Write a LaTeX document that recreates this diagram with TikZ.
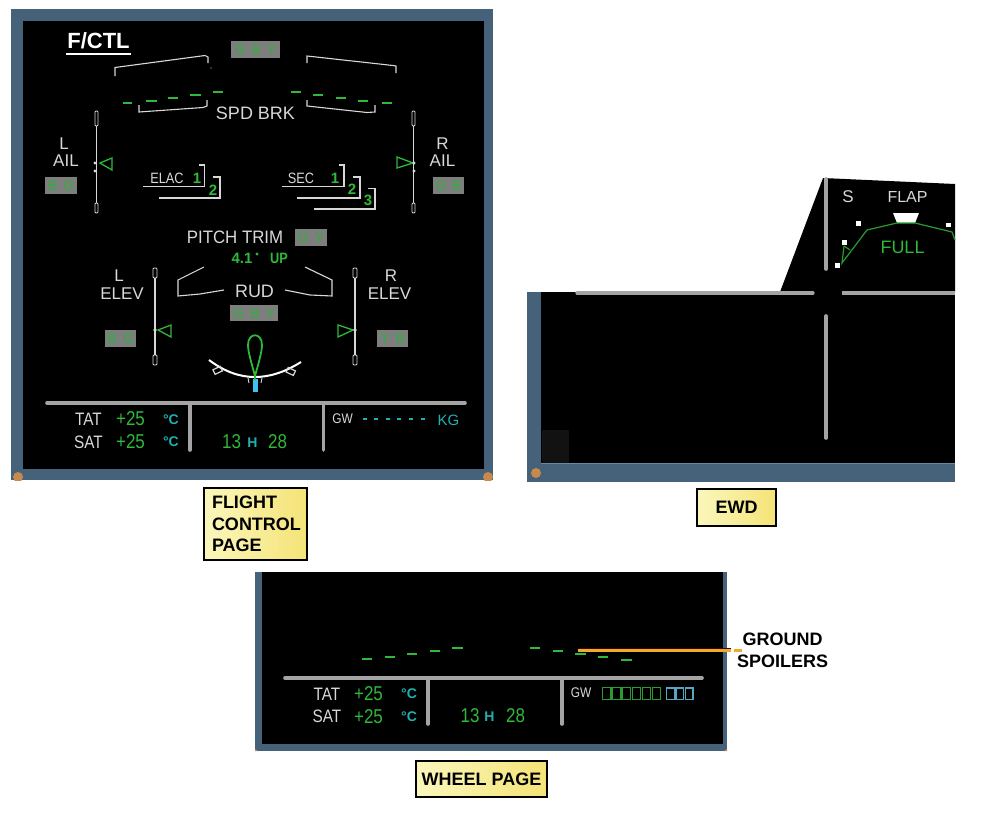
\documentclass[tikz,border=0pt]{standalone}
\usepackage{fontspec}
\setmainfont{Liberation Sans}
\definecolor{frame}{HTML}{46627A}
\definecolor{scr}{HTML}{C88A4A}
\definecolor{wht}{HTML}{D8D8D8}
\definecolor{grn}{HTML}{2FB83A}
\definecolor{hyd}{HTML}{2DB03A}
\definecolor{cyn}{HTML}{1FB0B0}
\definecolor{bar}{HTML}{A4A4A4}
\definecolor{hbox}{HTML}{7E7E7E}
\definecolor{lead}{HTML}{EBAE2C}
\definecolor{capL}{HTML}{FAF7BC}
\definecolor{capR}{HTML}{F5E377}
\newcommand{\fs}[1]{\fontsize{#1}{#1}\selectfont}
\newcommand{\nar}[1]{\scalebox{0.85}[1]{#1}}
\newcommand{\hg}{\hspace{6pt}}
\tikzset{
 tw/.style={text=wht,inner sep=0pt,font=\fs{17}},
 tg/.style={text=grn,inner sep=0pt,font=\fs{17}},
 tc/.style={text=cyn,inner sep=0pt,font=\bfseries\fs{14}},
 num/.style={text=grn,inner sep=0pt,font=\bfseries\fs{15}},
 hb/.style={fill=hbox,text=hyd,inner sep=0pt,font=\fs{14},anchor=north west},
 gl/.style={wht,line width=1.1pt},
 scl/.style={wht,line width=0.9pt,rounded corners=1pt},
 dsh/.style={grn,line width=1.4pt},
 sepline/.style={bar,line width=3.6pt,line cap=round},
 ptr/.style={grn,line width=1.3pt},
 capbox/.style={draw=black,line width=2pt,left color=capL,right color=capR,text=black,inner sep=0pt,font=\bfseries\fontsize{18}{21.5}\selectfont,align=left},
 dotw/.style={fill=white,draw=none},
}
\begin{document}
\begin{tikzpicture}[x=1pt,y=-1pt]
\useasboundingbox (0,0) rectangle (982,814);
\fill[white] (0,0) rectangle (982,814);
% ---------- Flight control panel
\fill[frame] (11,9) rectangle (493,480);
\begin{scope}
\clip (11,9) rectangle (493,480);
\fill[scr] (18,477) circle (5);
\fill[scr] (488,477) circle (5);
\end{scope}
\fill[black] (23,21) rectangle (484,468.5);
\node[text=white,inner sep=0pt,font=\bfseries\fs{22}] (fctl) at (98.5,41) {F/CTL};
\draw[white,line width=2pt] (66,53.5) -- (131,53.5);
\node[hb,minimum width=49,minimum height=17] (hgby) at (231,41) {G\hg B\hg Y};
\draw[gl] (115,76) -- (115,67.5) -- (205,55.5) -- (208,57) -- (208,63);
\draw[gl] (307,63) -- (307,56) -- (393,65.5) -- (396,66) -- (396,73);
\fill[wht] (211,68) circle (0.7);
\foreach \a/\b/\y in {123/132/103,146/157/101,168/178/98,190/201/95,213/223/92,291/301/92,313/323/95,336/346/98,358/368/101,382/392/103}
  \draw[dsh] (\a,\y) -- (\b,\y);
\draw[gl] (139,105) -- (139,112) -- (203,107.5) -- (207,106) -- (207,100);
\draw[gl] (307,100) -- (307,106) -- (367,112.5) -- (375,112) -- (375,105);
\node[tw,font=\fs{18}] (spd) at (255.5,113) {SPD BRK};
% ailerons
\draw[gl] (96.5,126) -- (96.5,203);
\draw[scl] (95,111) rectangle (98,126);
\draw[scl] (95,203) rectangle (98,213);
\draw[ptr] (100,163) -- (112,158) -- (112,170) -- cycle;
\fill[wht] (95,163) circle (1.6) (95,171) circle (1.6);
\node[tw] (lt) at (64,144) {L};
\node[tw] (lail) at (66,160.5) {AIL};
\node[hb,minimum width=32,minimum height=17] (hlail) at (45,177) {B\hg G};
\draw[gl] (413.5,126) -- (413.5,203);
\draw[scl] (412,111) rectangle (415,126);
\draw[scl] (412,203) rectangle (415,213);
\draw[ptr] (413,163) -- (397,157) -- (397,168) -- cycle;
\fill[wht] (414,163) circle (1.6) (414,171) circle (1.6);
\node[tw] (rt) at (442.5,144) {R};
\node[tw] (rail) at (442.5,160.5) {AIL};
\node[hb,minimum width=31,minimum height=17] (hrail) at (433,177) {G\hg B};
% computers
\node[tw,font=\fs{15}] (elac) at (167,178) {\nar{ELAC}};
\node[num] (e1) at (197,178) {1};
\draw[gl] (143,186.5) -- (204.5,186.5) -- (204.5,165) -- (199,165);
\node[num] (e2) at (213,190) {2};
\draw[gl] (159,198) -- (220,198) -- (220,177) -- (213,177);
\node[tw,font=\fs{15}] (sec) at (301,178) {\nar{SEC}};
\node[num] (s1) at (335,178) {1};
\draw[gl] (282,186.5) -- (344,186.5) -- (344,165) -- (339,165);
\node[num] (s2) at (352,189) {2};
\draw[gl] (297,198) -- (360,198) -- (360,177) -- (353,177);
\node[num] (s3) at (368,200) {3};
\draw[gl] (314,209) -- (375,209) -- (375,188.5) -- (368,188.5);
% pitch trim
\node[tw,font=\fs{18}] (pt) at (235,237.5) {\nar{\scalebox{1.1}[1]{PITCH TRIM}}};
\node[hb,minimum width=32,minimum height=17] (hpt) at (295,229) {G\hg Y};
\node[tg,font=\bfseries\fs{15}] (deg1) at (242,258.5) {4.1};
\fill[grn] (257,254) circle (1.6);
\node[tg,font=\bfseries\fs{15}] (up) at (279,258.5) {\nar{UP}};
% rudder frame
\draw[gl] (204,267) -- (178,280) -- (178,296) -- (200,294) -- (224,290);
\draw[gl] (305,267) -- (332,280) -- (332,296) -- (310,295) -- (285,290);
\node[tw,font=\fs{18}] (rud) at (254.5,291) {RUD};
\node[hb,minimum width=48,minimum height=16] (hrud) at (230,305) {G\hg B\hg Y};
% elevators
\node[tw] (el) at (119,276) {L};
\node[tw] (elev1) at (122,294) {ELEV};
\draw[gl] (155,278) -- (155,355);
\draw[scl] (153,268) rectangle (157,278);
\draw[scl] (153,355) rectangle (157,365);
\draw[ptr] (158,330) -- (171,325) -- (171,337) -- cycle;
\fill[wht] (155,330) circle (1.8);
\node[hb,minimum width=31,minimum height=17] (hlel) at (105,330) {B\hg G};
\node[tw] (er) at (391,276) {R};
\node[tw] (elev2) at (389.5,294) {ELEV};
\draw[gl] (355,278) -- (355,355);
\draw[scl] (353,268) rectangle (357,278);
\draw[scl] (353,355) rectangle (357,365);
\draw[ptr] (353,330) -- (338,325) -- (338,337) -- cycle;
\fill[wht] (355,330) circle (1.8);
\node[hb,minimum width=31,minimum height=17] (hrel) at (377,330) {Y\hg B};
% rudder gauge
\draw[white,line width=2pt] (209,360) .. controls (225,372) and (240,377) .. (255,377) .. controls (270,377) and (285,372) .. (301,362);
\draw[gl,line width=1.2pt,rotate around={25:(217,369)}] (213,368) rectangle (221,373);
\draw[gl,line width=1.2pt,rotate around={-25:(291,371)}] (287,369) rectangle (295,374);
\draw[gl,line width=0.9pt] (248,378) -- (249,383) (262,378) -- (261,383);
\fill[cyan!75!white] (253,379) rectangle (258,392);
\draw[grn,line width=1.8pt] (255,376) .. controls (252,365) and (248,352) .. (248,345) .. controls (248,332) and (262,332) .. (262,345) .. controls (262,352) and (258,365) .. (255,376) -- (255,380);
% status strip
\coordinate (s1a) at (47,403);
\coordinate (s1b) at (465,403);
\draw[sepline] (s1a) -- (s1b);
\draw[sepline] (190,403) -- (190,450);
\draw[sepline] (323.5,403) -- (323.5,450);
\node[tw,font=\fs{18}] (tat) at (88.5,419) {\nar{TAT}};
\node[tw,font=\fs{18}] (sat) at (88.5,442) {\nar{SAT}};
\node[tg,font=\fs{20}] (t1) at (130.5,419) {\nar{+25}};
\node[tg,font=\fs{20}] (t2) at (130.5,441.5) {\nar{+25}};
\node[tc] (c1) at (171,419.5) {°C};
\node[tc] (c2) at (171,442) {°C};
\node[tg,font=\fs{20}] (h13) at (231.5,441.5) {\nar{13}};
\node[tc] (hh) at (252.5,442.5) {H};
\node[tg,font=\fs{20}] (h28) at (277.5,441.5) {\nar{28}};
\node[tw,font=\fs{14}] (gw1) at (342.5,419) {\nar{GW}};
\foreach \i in {0,...,5} \fill[cyn] (362.5+\i*11.6,418) rectangle ++(4,1.8);
\node[tc,font=\fs{15}] (kg) at (448.5,420) {KG};
\node[capbox,minimum width=103,minimum height=72,anchor=north west,text width=87,inner xsep=8pt] (capa) at (203,487) {FLIGHT\\CONTROL\\PAGE};
% ---------- EWD
\fill[black] (780,292) -- (823,178) -- (955,184) -- (955,292) -- cycle;
\fill[frame] (527,292) rectangle (955,482);
\fill[black] (541,292) rectangle (955,463);
\draw[cyan!30!frame,line width=0.8pt] (541,463.5) -- (955,463.5);
\fill[black!93] (542,430) rectangle (569,463);
\fill[scr] (536,473) circle (5);
\draw[bar,line width=3.2pt,line cap=round] (577,293) -- (813,293);
\draw[bar,line width=3.2pt,line cap=butt] (842,293) -- (955,293);
\draw[bar,line width=3.6pt,line cap=round] (826,179) -- (826,269);
\draw[bar,line width=3.6pt,line cap=round] (826,316) -- (826,438);
\node[tw,font=\fs{17}] (slat) at (848,197) {S};
\node[tw,font=\fs{16}] (flap) at (907.5,197) {FLAP};
\fill[white] (893,213) -- (919,213) -- (915,223) -- (897,223) -- cycle;
\fill[dotw] (856,221) rectangle ++(4.5,4.5);
\fill[dotw] (946,222.5) rectangle ++(4.5,4.5);
\fill[dotw] (842,240) rectangle ++(4.5,4.5);
\fill[dotw] (835,263) rectangle ++(4.5,4.5);
\draw[grn!85!black,line width=1.2pt] (844,246) -- (842,263) -- (867,230) -- (897,223) -- (915,223) -- (952,232) -- (955,240);
\draw[grn!85!black,line width=1.2pt] (844,246) -- (850,250);
\node[tg,font=\fs{18}] (full) at (902.5,247.5) {FULL};
\node[capbox,minimum width=79,minimum height=37] (capb) at (736.5,507.5) {EWD};
% ---------- Wheel page
\fill[frame] (255,572) rectangle (727,751);
\fill[black] (261.5,572) rectangle (723,743.5);
\fill[scr] (255,749) -- (258,751) -- (255,751) -- cycle;
\fill[scr] (727,749) -- (724,751) -- (727,751) -- cycle;
\foreach \a/\b/\y in {361.5/372/659,384.5/394.5/657,407/417/654,430/440/651,452/463/648,530/540/648,553/563/651,575/586/654,598/608/657,621/631.5/660}
  \draw[dsh] (\a,\y) -- (\b,\y);
\draw[sepline] (285,678) -- (702,678);
\draw[sepline] (428,678) -- (428,724);
\draw[sepline] (562,678) -- (562,724);
\node[tw,font=\fs{18}] (tat3) at (327,694) {\nar{TAT}};
\node[tw,font=\fs{18}] (sat3) at (327,716.5) {\nar{SAT}};
\node[tg,font=\fs{20}] (t3) at (368.5,694) {\nar{+25}};
\node[tg,font=\fs{20}] (t4) at (368.5,716.5) {\nar{+25}};
\node[tc] (c3) at (409,694) {°C};
\node[tc] (c4) at (409,716.5) {°C};
\node[tg,font=\fs{20}] (h13b) at (470,716) {\nar{13}};
\node[tc] (hhb) at (489.5,717) {H};
\node[tg,font=\fs{20}] (h28b) at (515.5,716) {\nar{28}};
\node[tw,font=\fs{14}] (gw3) at (581,693) {\nar{GW}};
\foreach \i in {0,...,5} \draw[grn!85!black,line width=1.4pt] (602.7+\i*9.9,687.5) rectangle ++(8.2,12);
\foreach \i in {0,...,2} \draw[cyan!70!black!80!white,line width=1.4pt] (666.7+\i*9.3,688) rectangle ++(7.6,11.5);
\node[capbox,minimum width=131,minimum height=36] (capc) at (481.5,779) {WHEEL PAGE};
% callout
\node[text=black,inner sep=0pt,font=\bfseries\fontsize{18}{22}\selectfont,align=center] (gsp) at (782.5,650) {GROUND\\SPOILERS};
\coordinate (gs) at (578,650);
\draw[black!70!red,line width=0.7pt] (gs) ++(0,-1.8) -- (731,648.2);
\draw[lead,line width=3pt] (gs) -- (742,650);
\fill[white] (731,640) rectangle (734,665);
\end{tikzpicture}
\end{document}
